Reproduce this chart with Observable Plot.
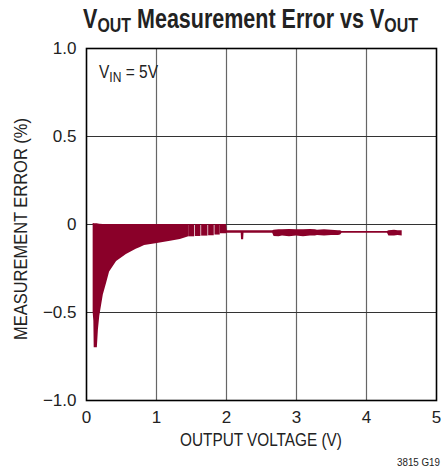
<!DOCTYPE html>
<html>
<head>
<meta charset="utf-8">
<script src="https://cdn.jsdelivr.net/npm/d3@7"></script>
<script src="https://cdn.jsdelivr.net/npm/@observablehq/plot@0.6"></script>
<style>
  html, body { margin: 0; padding: 0; background: white; }
</style>
</head>
<body>
<div id="chart"></div>
<script>
// ---- data ----
const xTicks = [0, 1, 2, 3, 4, 5];
const yTicks = [-1, -0.5, 0, 0.5, 1];
const yTickLabels = ["\u22121.0", "\u22120.5", "0", "0.5", "1.0"];

// dense region (x in V, lower / upper envelope of error in %)
const envX  = [0.095, 0.105, 0.11, 0.155, 0.17, 0.19, 0.24, 0.29, 0.33, 0.43, 0.57, 0.71, 0.77, 0.83, 0.99, 1.2, 1.34, 1.44, 1.46];
const envLo = [-0.50, -0.55, -0.70, -0.70, -0.60, -0.52, -0.40, -0.33, -0.27, -0.21, -0.17, -0.14, -0.13, -0.12, -0.11, -0.095, -0.085, -0.072, -0.07];
const envHi = [0.005, 0.005, 0.004, 0.004, 0.003, 0.002, 0, 0, 0, 0, 0, 0, 0, 0, 0, 0, 0, 0, 0];

// separated bars between 1.46 V and 1.91 V
const barX1 = [1.46, 1.555, 1.645, 1.745, 1.835];
const barX2 = [1.545, 1.635, 1.735, 1.825, 1.91];
const barLo = [-0.07, -0.068, -0.066, -0.064, -0.06];
const barHi = [0, 0, 0, 0, 0];

// tail (thin trace with thicker noisy bands)
const tailX  = [1.91, 2.0, 2.01, 2.2, 2.21, 2.215, 2.245, 2.25, 2.66, 2.68, 2.75, 2.8, 2.9, 3.0, 3.1, 3.2, 3.27, 3.3, 3.4, 3.5, 3.6, 3.63, 3.65, 4.3, 4.32, 4.4, 4.45, 4.51];
const tailLo = [-0.053, -0.053, -0.05, -0.05, -0.05, -0.087, -0.087, -0.05, -0.05, -0.068, -0.07, -0.065, -0.07, -0.066, -0.07, -0.066, -0.065, -0.062, -0.066, -0.062, -0.062, -0.06, -0.05, -0.05, -0.065, -0.066, -0.062, -0.065];
const tailHi = [0, 0, -0.035, -0.035, -0.035, -0.035, -0.035, -0.035, -0.035, -0.032, -0.03, -0.03, -0.028, -0.03, -0.03, -0.028, -0.03, -0.032, -0.03, -0.032, -0.035, -0.035, -0.04, -0.04, -0.035, -0.032, -0.035, -0.035];

const envelope = envX.map((x, i) => ({x, lo: envLo[i], hi: envHi[i]}));
const bars = barX1.map((x1, i) => ({x1, x2: barX2[i], lo: barLo[i], hi: barHi[i]}));
const tail = tailX.map((x, i) => ({x, lo: tailLo[i], hi: tailHi[i]}));

const RED = "#8a0029";
const FONT = "'Liberation Sans', Arial, Helvetica, sans-serif";

const chart = Plot.plot({
  width: 442,
  height: 472,
  marginLeft: 86,
  marginRight: 6,
  marginTop: 48,
  marginBottom: 72,
  x: {domain: [0, 5]},
  y: {domain: [-1, 1]},
  style: {fontFamily: FONT, fontSize: "17px", color: "#222", background: "white"},
  marks: [
    Plot.gridX(xTicks.slice(1, -1), {stroke: "#666", strokeOpacity: 1, strokeWidth: 1.2}),
    Plot.gridY(yTicks.slice(1, -1), {stroke: "#333", strokeOpacity: 1, strokeWidth: 1.2}),
    Plot.areaY(envelope, {x: "x", y1: "lo", y2: "hi", fill: RED}),
    Plot.rectY(bars, {x1: "x1", x2: "x2", y1: "lo", y2: "hi", fill: RED}),
    Plot.areaY(tail, {x: "x", y1: "lo", y2: "hi", fill: RED}),
    Plot.frame({stroke: "black", strokeWidth: 1.6}),
    Plot.axisX(xTicks, {tickSize: 0, tickPadding: 10, label: null, fontSize: 17}),
    Plot.axisY(yTicks, {tickSize: 0, tickPadding: 10, label: null, fontSize: 17,
      tickFormat: d => yTickLabels[yTicks.indexOf(d)]})
  ]
});

document.getElementById("chart").appendChild(chart);

const svg = d3.select(chart);

// condense a text element horizontally to a target width (narrow font look)
function condense(sel, cx, cy, target, rotate) {
  const w = sel.node().getComputedTextLength();
  const s = Math.min(1, target / w);
  sel.attr("x", null).attr("y", null)
     .attr("transform", `translate(${cx},${cy})${rotate ? " rotate(-90)" : ""} scale(${s},1)`);
}

// Title with subscripts
const title = svg.append("text")
  .attr("text-anchor", "middle")
  .attr("font-family", FONT)
  .attr("font-weight", "bold")
  .attr("font-size", 27)
  .attr("fill", "#222");
title.append("tspan").text("V");
title.append("tspan").attr("font-size", 20).attr("dy", 4).text("OUT");
title.append("tspan").attr("dy", -4).text(" Measurement Error vs V");
title.append("tspan").attr("font-size", 20).attr("dy", 4).text("OUT");
condense(title, 250.5, 28, 335);

// Annotation V_IN = 5V
const ann = svg.append("text")
  .attr("text-anchor", "start")
  .attr("font-family", FONT)
  .attr("font-size", 18)
  .attr("fill", "#222");
ann.append("tspan").text("V");
ann.append("tspan").attr("font-size", 14).attr("dy", 4).text("IN");
ann.append("tspan").attr("dy", -4).text(" = 5V");
condense(ann, 99, 78, 59);

// Axis labels
const xl = svg.append("text")
  .attr("text-anchor", "middle")
  .attr("font-family", FONT)
  .attr("font-size", 18.5)
  .attr("fill", "#222")
  .text("OUTPUT VOLTAGE (V)");
condense(xl, 261, 446, 162);

const yl = svg.append("text")
  .attr("text-anchor", "middle")
  .attr("font-family", FONT)
  .attr("font-size", 18.5)
  .attr("fill", "#222")
  .text("MEASUREMENT ERROR (%)");
condense(yl, 26.5, 229, 222, true);

const note = svg.append("text")
  .attr("text-anchor", "end")
  .attr("font-family", FONT)
  .attr("font-size", 10.5)
  .attr("fill", "#222")
  .text("3815 G19");
condense(note, 440, 466, 43);
</script>
</body>
</html>
